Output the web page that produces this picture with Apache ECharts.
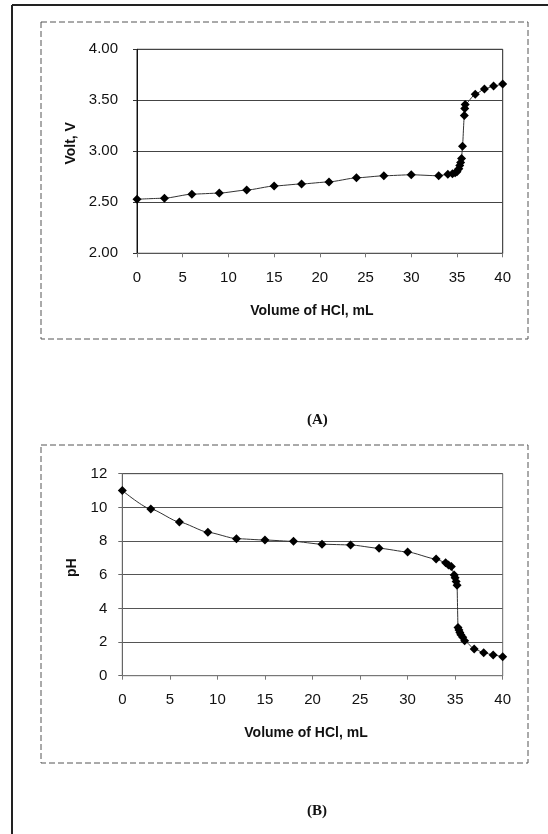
<!DOCTYPE html>
<html><head><meta charset="utf-8">
<script src="https://cdn.jsdelivr.net/npm/echarts@6/dist/echarts.min.js"></script>
<style>html,body{margin:0;padding:0;background:#fff}#c{width:548px;height:834px}</style>
</head><body><div id="c"></div>
<script>
// Chart (A): potential vs volume of HCl
const volA  = [0, 3, 6, 9, 12, 15, 18, 21, 24, 27, 30, 33, 34, 34.5, 34.8, 35.0, 35.2, 35.3, 35.4, 35.5, 35.6, 35.8, 35.85, 35.9, 37, 38, 39, 40];
const voltA = [2.53, 2.54, 2.58, 2.59, 2.62, 2.66, 2.68, 2.70, 2.74, 2.76, 2.77, 2.76, 2.775, 2.78, 2.79, 2.80, 2.83, 2.86, 2.89, 2.93, 3.05, 3.35, 3.42, 3.46, 3.56, 3.61, 3.64, 3.66];
// Chart (B): pH vs volume of HCl
const volB = [0, 3, 6, 9, 12, 15, 18, 21, 24, 27, 30, 33, 34, 34.3, 34.6, 34.9, 35.0, 35.1, 35.2, 35.3, 35.4, 35.5, 35.6, 35.8, 36, 37, 38, 39, 40];
const pHB  = [11.0, 9.9, 9.13, 8.52, 8.14, 8.06, 7.98, 7.81, 7.77, 7.57, 7.35, 6.93, 6.71, 6.58, 6.48, 5.98, 5.82, 5.59, 5.37, 2.87, 2.72, 2.56, 2.43, 2.29, 2.08, 1.59, 1.37, 1.23, 1.13];

const xTitle = 'Volume of HCl, mL';
const yTitleA = 'Volt, V';
const yTitleB = 'pH';
const captionA = '(A)';
const captionB = '(B)';

const zip = (xs, ys) => xs.map((x, i) => [x, ys[i]]);

const chart = echarts.init(document.getElementById('c'), null, {renderer: 'canvas'});
const tickFont = {fontFamily: 'Liberation Sans, Arial, sans-serif', fontSize: 15, color: '#111'};
const nameFont = {fontFamily: 'Liberation Sans, Arial, sans-serif', fontSize: 14, fontWeight: 'bold', color: '#111'};

function xAxisDef(gridIndex, gap, shift, lineColor) {
  return {
    type: 'value', gridIndex, min: 0, max: 40, interval: 5,
    name: xTitle, nameLocation: 'middle', nameGap: gap,
    nameTextStyle: Object.assign({}, nameFont, {padding: [0, shift, 0, 0]}),
    axisLine: {show: true, lineStyle: {color: lineColor, width: 1}},
    axisTick: {show: true, inside: false, length: 4, lineStyle: {color: '#777'}},
    axisLabel: Object.assign({}, tickFont, {margin: 17}),
    splitLine: {show: false}
  };
}

const option = {
  animation: false,
  backgroundColor: '#fff',
  graphic: [
    {type: 'line', shape: {x1: 12, y1: 5, x2: 548, y2: 5}, style: {stroke: '#222', lineWidth: 2}},
    {type: 'line', shape: {x1: 12, y1: 5, x2: 12, y2: 834}, style: {stroke: '#222', lineWidth: 2}},
    {type: 'rect', shape: {x: 41, y: 22, width: 487, height: 317}, style: {fill: 'none', stroke: '#555', lineWidth: 1, lineDash: [6, 3]}},
    {type: 'rect', shape: {x: 41, y: 445, width: 487, height: 318}, style: {fill: 'none', stroke: '#555', lineWidth: 1, lineDash: [6, 3]}},
    {type: 'text', left: 307, top: 413, style: {text: captionA, font: 'bold 15px "Liberation Serif", "Times New Roman", serif', fill: '#111'}},
    {type: 'text', left: 307, top: 804, style: {text: captionB, font: 'bold 15px "Liberation Serif", "Times New Roman", serif', fill: '#111'}}
  ],
  grid: [
    {left: 137, top: 49.3, width: 365.7, height: 204, show: true, borderColor: '#222', borderWidth: 1, backgroundColor: 'transparent'},
    {left: 122.3, top: 473.7, width: 380.4, height: 202, show: true, borderColor: '#666', borderWidth: 1, backgroundColor: 'transparent'}
  ],
  xAxis: [
    xAxisDef(0, 51, 16, '#555'),
    xAxisDef(1, 50, 13, '#777')
  ],
  yAxis: [
    {
      type: 'value', gridIndex: 0, min: 2, max: 4, interval: 0.5,
      name: yTitleA, nameLocation: 'middle', nameGap: 58, nameRotate: 90,
      nameTextStyle: Object.assign({}, nameFont, {padding: [0, 0, 0, 16]}),
      axisLine: {show: true, lineStyle: {color: '#111'}},
      axisTick: {show: true, inside: false, length: 4, lineStyle: {color: '#333'}},
      axisLabel: Object.assign({}, tickFont, {margin: 19, formatter: v => v.toFixed(2)}),
      splitLine: {show: true, lineStyle: {color: '#444', width: 1}}
    },
    {
      type: 'value', gridIndex: 1, min: 0, max: 12, interval: 2,
      name: yTitleB, nameLocation: 'middle', nameGap: 43, nameRotate: 90,
      nameTextStyle: Object.assign({}, nameFont, {padding: [0, 0, 0, 14]}),
      axisLine: {show: true, lineStyle: {color: '#666'}},
      axisTick: {show: true, inside: false, length: 4, lineStyle: {color: '#666'}},
      axisLabel: Object.assign({}, tickFont, {margin: 15}),
      splitLine: {show: true, lineStyle: {color: '#555', width: 1}}
    }
  ],
  series: [
    {
      type: 'line', xAxisIndex: 0, yAxisIndex: 0, data: zip(volA, voltA),
      smooth: 0.2, smoothMonotone: 'x',
      symbol: 'diamond', symbolSize: 9,
      itemStyle: {color: '#000'},
      lineStyle: {color: '#333', width: 1}
    },
    {
      type: 'line', xAxisIndex: 1, yAxisIndex: 1, data: zip(volB, pHB),
      smooth: 0.2, smoothMonotone: 'x',
      symbol: 'diamond', symbolSize: 9,
      itemStyle: {color: '#000'},
      lineStyle: {color: '#333', width: 1}
    }
  ]
};
chart.setOption(option);
</script>
</body></html>
